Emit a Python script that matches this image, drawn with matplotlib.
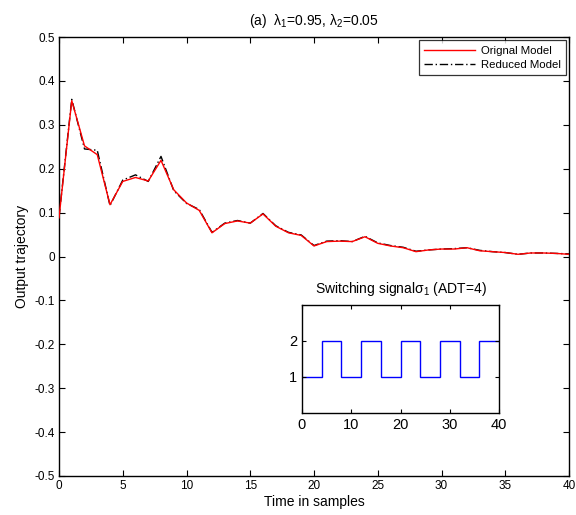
import matplotlib
matplotlib.use("Agg")
import matplotlib.pyplot as plt
import numpy as np

plt.rcParams['font.family'] = ['Liberation Sans', 'DejaVu Sans']
plt.rcParams['mathtext.fontset'] = 'custom'
plt.rcParams['mathtext.rm'] = 'Liberation Sans'
plt.rcParams['mathtext.it'] = 'Liberation Sans:italic'

time = list(range(41))
original = [0.088, 0.355, 0.252, 0.232, 0.118, 0.171, 0.180, 0.172, 0.219, 0.152,
            0.122, 0.105, 0.054, 0.075, 0.081, 0.076, 0.097, 0.069, 0.054, 0.048,
            0.024, 0.034, 0.035, 0.034, 0.045, 0.030, 0.024, 0.020, 0.011, 0.015,
            0.017, 0.017, 0.020, 0.013, 0.011, 0.009, 0.005, 0.008, 0.008, 0.007, 0.005]
reduced = [0.090, 0.358, 0.245, 0.242, 0.116, 0.174, 0.186, 0.171, 0.228, 0.150,
           0.121, 0.107, 0.055, 0.076, 0.082, 0.076, 0.098, 0.070, 0.055, 0.049,
           0.025, 0.035, 0.036, 0.034, 0.046, 0.031, 0.025, 0.021, 0.012, 0.015,
           0.017, 0.018, 0.020, 0.014, 0.011, 0.009, 0.005, 0.008, 0.008, 0.007, 0.006]

switch_edges = [0, 4, 8, 12, 16, 20, 24, 28, 32, 36, 40]
switch_modes = [1, 2, 1, 2, 1, 2, 1, 2, 1, 2]

main_xticks = [0, 5, 10, 15, 20, 25, 30, 35, 40]
main_yticks = [-0.5, -0.4, -0.3, -0.2, -0.1, 0, 0.1, 0.2, 0.3, 0.4, 0.5]
main_yticklabels = ['-0.5', '-0.4', '-0.3', '-0.2', '-0.1', '0', '0.1', '0.2', '0.3', '0.4', '0.5']

fig = plt.figure(figsize=(5.76, 5.15), dpi=100)
ax = fig.add_axes([59/576, 1-476/515, 510/576, (476-37)/515])

ax.plot(time, original, color='red', lw=1.0, label='Orignal Model', zorder=3)
ax.plot(time, reduced, color='black', lw=1.0, ls=(0, (6, 2, 1, 2)), label='Reduced Model', zorder=2)

ax.set_xlim(0, 40)
ax.set_ylim(-0.5, 0.5)
ax.set_xticks(main_xticks)
ax.set_yticks(main_yticks)
ax.set_yticklabels(main_yticklabels)
ax.tick_params(direction='in', top=True, right=True, labelsize=8.5, length=4, width=0.8, pad=3)
for s in ax.spines.values():
    s.set_linewidth(1.0)
ax.set_xlabel('Time in samples', fontsize=10, labelpad=2)
ax.set_ylabel('Output trajectory', fontsize=10, labelpad=4)
ax.set_title('(a)  λ$_1$=0.95, λ$_2$=0.05', fontsize=10, pad=9)

leg = ax.legend(loc='upper right', fontsize=8.2, frameon=True, fancybox=False,
                edgecolor='black', handlelength=4.5, borderpad=0.45, labelspacing=0.4,
                borderaxespad=0.3, handletextpad=0.5)
leg.get_frame().set_linewidth(0.9)

ins = fig.add_axes([302/576, 1-413/515, 197/576, 108/515])
ins.stairs(switch_modes, switch_edges, color='blue', lw=1.0, baseline=None)
ins.set_xlim(0, 40)
ins.set_ylim(0, 3)
ins.set_xticks([0, 10, 20, 30, 40])
ins.set_yticks([1, 2])
ins.tick_params(direction='in', top=True, right=True, labelsize=10.5, length=3, width=0.8)
for s in ins.spines.values():
    s.set_linewidth(1.0)
ins.set_title('Switching signalσ$_1$ (ADT=4)', fontsize=10, pad=9)

fig.savefig('out.png', dpi=100)
